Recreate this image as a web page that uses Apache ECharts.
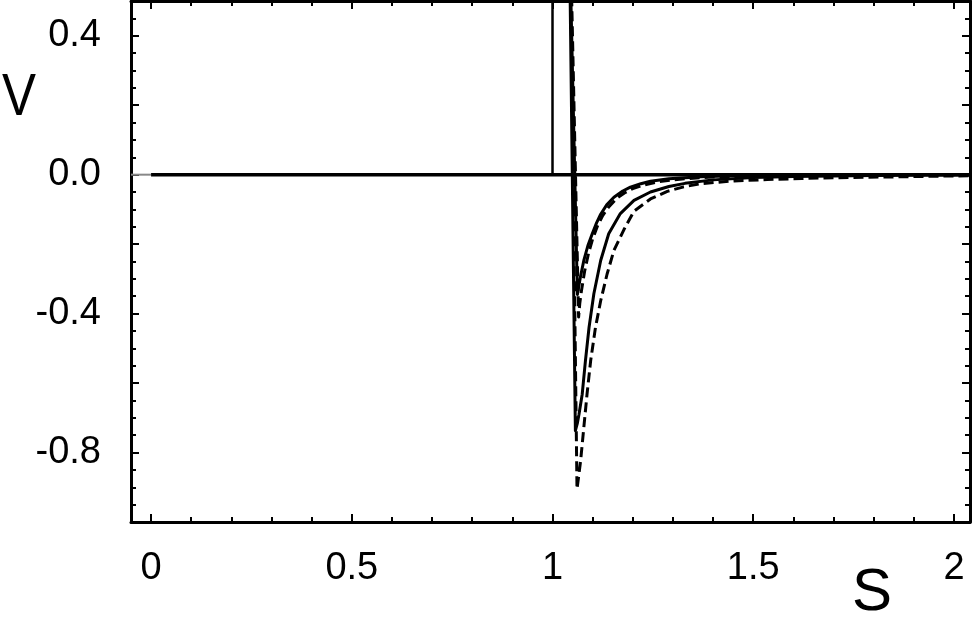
<!DOCTYPE html>
<html>
<head>
<meta charset="utf-8">
<script src="https://cdn.jsdelivr.net/npm/echarts@6/dist/echarts.min.js"></script>
<style>
html,body{margin:0;padding:0;background:#fff;}
#chart{width:975px;height:630px;}
</style>
</head>
<body>
<div id="chart"></div>
<script>
// ---- data ----
var xTickValues = [0, 0.5, 1, 1.5, 2];
var xTickLabels = ['0', '0.5', '1', '1.5', '2'];
var yTickValues = [-0.8, -0.4, 0, 0.4];
var yTickLabels = ['-0.8', '-0.4', '0.0', '0.4'];

// zero reference line and hard-core wall
var zeroS = [0, 2.04];
var zeroV = [0, 0];
var stubS = [-0.05, 0];
var stubV = [0, 0];
var wallS = [1, 1];
var wallV = [0, 0.6];

// curve A (solid, shallow well)
var sA = [1.044, 1.062, 1.066, 1.070, 1.078, 1.088, 1.099, 1.110, 1.120, 1.135, 1.153, 1.175, 1.194, 1.220, 1.244, 1.290, 1.330, 1.370, 1.450, 1.600, 1.800, 2.040];
var vA = [0.6, -0.345, -0.318, -0.292, -0.247, -0.205, -0.170, -0.138, -0.114, -0.087, -0.065, -0.047, -0.036, -0.026, -0.019, -0.012, -0.009, -0.006, -0.003, -0.001, -0.0005, 0];

// curve B (dashed, shallow well)
var sB = [1.046, 1.065, 1.068, 1.072, 1.080, 1.090, 1.100, 1.112, 1.125, 1.140, 1.160, 1.180, 1.200, 1.230, 1.260, 1.300, 1.350, 1.400, 1.500, 1.600, 1.800, 2.040];
var vB = [0.6, -0.41, -0.37, -0.335, -0.278, -0.225, -0.185, -0.148, -0.118, -0.093, -0.068, -0.052, -0.040, -0.029, -0.021, -0.015, -0.010, -0.007, -0.004, -0.002, -0.001, 0];

// curve C (solid, deep well)
var sC = [1.043, 1.057, 1.062, 1.066, 1.074, 1.082, 1.091, 1.103, 1.120, 1.140, 1.169, 1.203, 1.244, 1.290, 1.330, 1.400, 1.500, 1.600, 1.750, 1.900, 2.040];
var vC = [0.6, -0.737, -0.715, -0.69, -0.632, -0.536, -0.44, -0.343, -0.247, -0.170, -0.112, -0.074, -0.050, -0.034, -0.025, -0.015, -0.008, -0.005, -0.003, -0.001, 0];

// curve D (dashed, deep well)
var sD = [1.045, 1.061, 1.065, 1.070, 1.078, 1.086, 1.095, 1.107, 1.120, 1.136, 1.153, 1.178, 1.203, 1.244, 1.286, 1.327, 1.369, 1.452, 1.535, 1.620, 1.700, 1.870, 2.040];
var vD = [0.6, -0.905, -0.87, -0.824, -0.728, -0.632, -0.536, -0.44, -0.363, -0.286, -0.218, -0.158, -0.105, -0.070, -0.048, -0.035, -0.026, -0.018, -0.014, -0.011, -0.009, -0.006, -0.003];

// ---- build ----
function pairs(s, v) { return s.map(function (x, i) { return [x, v[i]]; }); }
function findLabel(vals, labs, v) {
  for (var i = 0; i < vals.length; i++) { if (Math.abs(vals[i] - v) < 1e-6) return labs[i]; }
  return '';
}
var FONT = "'Liberation Sans', Arial, Helvetica, sans-serif";
var axisLineStyle = { color: '#000', width: 3 };
var tickStyle = { color: '#000', width: 2 };

function xAx(pos, showLabel) {
  return {
    type: 'value', position: pos, min: -0.05, max: 2.04,
    axisLine: { show: true, onZero: false, lineStyle: axisLineStyle },
    axisTick: { show: true, inside: true, length: 8, lineStyle: tickStyle },
    minorTick: { show: true, splitNumber: 5, length: 5, lineStyle: tickStyle },
    splitLine: { show: false }, minorSplitLine: { show: false },
    axisLabel: {
      show: showLabel, fontSize: 38, color: '#000', fontFamily: FONT, margin: 28,
      showMinLabel: true, showMaxLabel: true,
      formatter: function (v) { return findLabel(xTickValues, xTickLabels, v); }
    }
  };
}
function yAx(pos, showLabel) {
  return {
    type: 'value', position: pos, min: -1, max: 0.5, interval: 0.2,
    axisLine: { show: true, onZero: false, lineStyle: axisLineStyle },
    axisTick: { show: true, inside: true, length: 8, lineStyle: tickStyle },
    minorTick: { show: true, splitNumber: 4, length: 5, lineStyle: tickStyle },
    splitLine: { show: false }, minorSplitLine: { show: false },
    axisLabel: {
      show: showLabel, fontSize: 38, color: '#000', fontFamily: FONT, margin: 30,
      padding: [7, 0, 0, 0],
      formatter: function (v) { return findLabel(yTickValues, yTickLabels, v); }
    }
  };
}
function line(data, width, dashed, color) {
  return {
    type: 'line', data: data, xAxisIndex: 0, yAxisIndex: 0,
    showSymbol: false, symbol: 'none', smooth: false, clip: true, silent: true,
    animation: false,
    lineStyle: { color: color || '#000', width: width, type: dashed ? [10, 5] : 'solid', cap: 'butt', join: 'round' }
  };
}

var chart = echarts.init(document.getElementById('chart'), null, { renderer: 'canvas' });
chart.setOption({
  animation: false,
  backgroundColor: '#fff',
  grid: { left: 131, right: 5, top: 1, bottom: 108, containLabel: false },
  xAxis: [xAx('bottom', true), xAx('top', false)],
  yAxis: [yAx('left', true), yAx('right', false)],
  series: [
    line(pairs(stubS, stubV), 2, false, '#888'),
    line(pairs(zeroS, zeroV), 3.5, false),
    line(pairs(wallS, wallV), 2.5, false),
    line(pairs(sA, vA), 3, false),
    line(pairs(sB, vB), 3, true),
    line(pairs(sC, vC), 3, false),
    line(pairs(sD, vD), 3, true)
  ],
  graphic: [
    { type: 'text', left: 2, top: 68, style: { text: 'V', fontSize: 60, fontFamily: FONT, fill: '#000' }, scaleX: 0.85 },
    { type: 'text', left: 852, top: 563, style: { text: 'S', fontSize: 60, fontFamily: FONT, fill: '#000' } }
  ]
});
</script>
</body>
</html>
